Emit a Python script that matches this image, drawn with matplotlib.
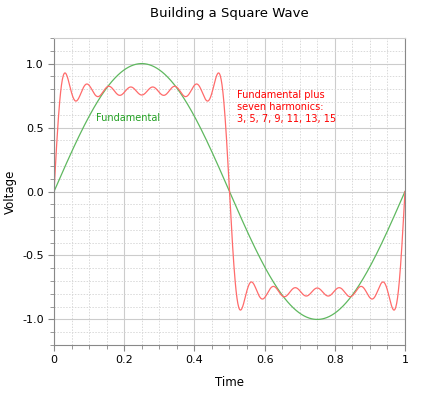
import numpy as np
from matplotlib import pyplot as plt
from matplotlib.ticker import MultipleLocator

# harmonics named in the chart's annotation (1 = fundamental)
harmonics = [1, 3, 5, 7, 9, 11, 13, 15]
t = np.linspace(0, 1, 801)

fundamental = np.sin(2 * np.pi * t)
square = sum(np.sin(2 * np.pi * n * t) / n for n in harmonics)

x_ticks = [0, 0.2, 0.4, 0.6, 0.8, 1]
x_tick_labels = ['0', '0.2', '0.4', '0.6', '0.8', '1']
y_ticks = [-1.0, -0.5, 0.0, 0.5, 1.0]
y_tick_labels = ['-1.0', '-0.5', '0.0', '0.5', '1.0']

fig = plt.figure(figsize=(4.23, 3.93), dpi=100)
ax = fig.add_axes([0.1277, 0.1221, 0.8297, 0.7812])

ax.plot(t, fundamental, color='#5fb85f', lw=0.9)
ax.plot(t, square, color='#ff6b6b', lw=0.9)

ax.set_xlim(0, 1)
ax.set_ylim(-1.2, 1.2)
ax.set_xticks(x_ticks)
ax.set_xticklabels(x_tick_labels)
ax.set_yticks(y_ticks)
ax.set_yticklabels(y_tick_labels)
ax.xaxis.set_minor_locator(MultipleLocator(0.05))
ax.yaxis.set_minor_locator(MultipleLocator(0.1))

ax.grid(which='major', color='#cccccc', lw=0.8)
ax.grid(which='minor', color='#d9d9d9', lw=0.7, ls=(0, (1.5, 1.5)))
ax.set_axisbelow(True)

ax.tick_params(which='both', direction='out', colors='#888888', labelcolor='black', labelsize=8)
ax.tick_params(which='major', length=4)
ax.tick_params(which='minor', length=3)

for side in ['left', 'bottom', 'right']:
    ax.spines[side].set_color('#888888')
ax.spines['top'].set_color('#cccccc')

ax.set_title('Building a Square Wave', fontsize=9.5, pad=15)
ax.set_xlabel('Time', fontsize=8.5)
ax.set_ylabel('Voltage', fontsize=8.5)
ax.xaxis.set_label_coords(0.5, -0.1)
ax.yaxis.set_label_coords(-0.105, 0.5)

ax.text(0.12, 0.575, 'Fundamental', color='#22a022', fontsize=7, va='center')
ax.text(0.521, 0.79, 'Fundamental plus\nseven harmonics:\n3, 5, 7, 9, 11, 13, 15',
        color='red', fontsize=7, va='top', linespacing=1.25)

plt.savefig('out.png', dpi=100)
